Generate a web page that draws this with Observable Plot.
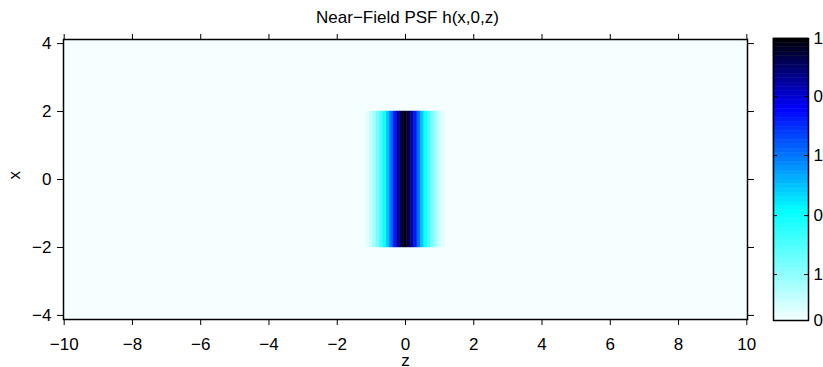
<!DOCTYPE html>
<html><head><meta charset="utf-8">
<script src="https://cdn.jsdelivr.net/npm/d3@7"></script>
<script src="https://cdn.jsdelivr.net/npm/@observablehq/plot@0.6"></script>
<style>
body{margin:0;background:#fff;}
#wrap{position:relative;width:823px;height:367px;overflow:hidden;}
#wrap svg{position:absolute;left:0;top:0;}
</style></head><body><div id="wrap"></div>
<script>
const titleText = "Near\u2212Field PSF h(x,0,z)";
const xLabel = "z";
const yLabel = "x";
const zTicks = [-10, -8, -6, -4, -2, 0, 2, 4, 6, 8, 10];
const xTicks = [-4, -2, 0, 2, 4];
const zGrid = [-1.1, -1.0, -0.9, -0.8, -0.7, -0.6, -0.5, -0.4, -0.3, -0.2, -0.1, 0, 0.1, 0.2, 0.3, 0.4, 0.5, 0.6, 0.7, 0.8, 0.9, 1.0, 1.1];
const psfProfile = [0.03, 0.07, 0.13, 0.2, 0.28, 0.37, 0.47, 0.59, 0.72, 0.84, 0.93, 1.0, 0.93, 0.84, 0.72, 0.59, 0.47, 0.37, 0.28, 0.2, 0.13, 0.07, 0.03];
const gridStep = 0.1;
const bandXRange = [-2, 2];
const cbTickValues = [0, 0.163, 0.372, 0.585, 0.794, 1.0];
const cbTickLabels = ["0", "1", "0", "1", "0", "1"];
const colorStops = [0, 0.39, 0.75, 1];
const colorRange = ["#f5ffff", "#00ffff", "#0000ff", "#000000"];
const cbLevels = 64;

const fmt = d => d < 0 ? "\u2212" + Math.abs(d) : String(d);
const colorOpts = {type: "linear", domain: colorStops, range: colorRange, interpolate: "rgb"};
const font = "'Liberation Sans', Arial, Helvetica, sans-serif";
const band = zGrid.map((z, i) => ({z, v: psfProfile[i]}));

const main = Plot.plot({
  width: 823, height: 367,
  marginLeft: 63, marginRight: 76, marginTop: 39, marginBottom: 48,
  style: {fontFamily: font, fontSize: "17px", background: "white", color: "black"},
  x: {domain: [-10.02, 10.02]},
  y: {domain: [-4.12, 4.12]},
  color: colorOpts,
  marks: [
    Plot.frame({fill: colorRange[0]}),
    Plot.rect(band, {x1: d => d.z - gridStep / 2, x2: d => d.z + gridStep / 2, y1: bandXRange[0], y2: bandXRange[1], fill: "v", stroke: "v", strokeWidth: 0.5}),
    Plot.axisX(zTicks, {anchor: "bottom", tickSize: 6, tickPadding: 12, tickFormat: fmt, label: null}),
    Plot.axisX(zTicks, {anchor: "top", tickSize: 6, tickFormat: () => "", label: null}),
    Plot.axisY(xTicks, {anchor: "left", tickSize: 6, tickPadding: 6, tickFormat: fmt, label: null}),
    Plot.axisY(xTicks, {anchor: "right", tickSize: 6, tickFormat: () => "", label: null}),
    Plot.text([titleText], {frameAnchor: "top", dy: -29, dx: 2, text: d => d, fontSize: 17, fill: "black"}),
    Plot.text([xLabel], {frameAnchor: "bottom", dy: 46, text: d => d, fontSize: 17, fill: "black"}),
    Plot.text([yLabel], {frameAnchor: "left", dx: -49, rotate: -90, text: d => d, fontSize: 17, fill: "black"}),
    Plot.frame({stroke: "black", strokeWidth: 1.5})
  ]
});

const cbData = d3.range(cbLevels).map(i => ({lo: i / cbLevels, hi: (i + 1) / cbLevels, v: (i + 0.5) / cbLevels}));
const cbInner = cbTickValues.slice(1, -1);
const cb = Plot.plot({
  width: 823, height: 367,
  marginLeft: 773, marginRight: 15, marginTop: 38, marginBottom: 47,
  style: {fontFamily: font, fontSize: "17px", background: "transparent", color: "black", overflow: "visible"},
  x: {domain: [0, 1], axis: null},
  y: {domain: [0, 1]},
  color: colorOpts,
  marks: [
    Plot.rect(cbData, {x1: 0, x2: 1, y1: "lo", y2: "hi", fill: "v", stroke: "v", strokeWidth: 0.5}),
    Plot.tickY(cbInner, {y: d => d, insetRight: 31, stroke: "black"}),
    Plot.tickY(cbInner, {y: d => d, insetLeft: 31, stroke: "black"}),
    Plot.axisY(cbTickValues, {anchor: "right", tickSize: 0, tickPadding: 5, tickFormat: d => cbTickLabels[cbTickValues.indexOf(d)], label: null}),
    Plot.frame({stroke: "black", strokeWidth: 1.5})
  ]
});

const wrap = document.getElementById("wrap");
wrap.appendChild(main);
wrap.appendChild(cb);
</script>
</body></html>
